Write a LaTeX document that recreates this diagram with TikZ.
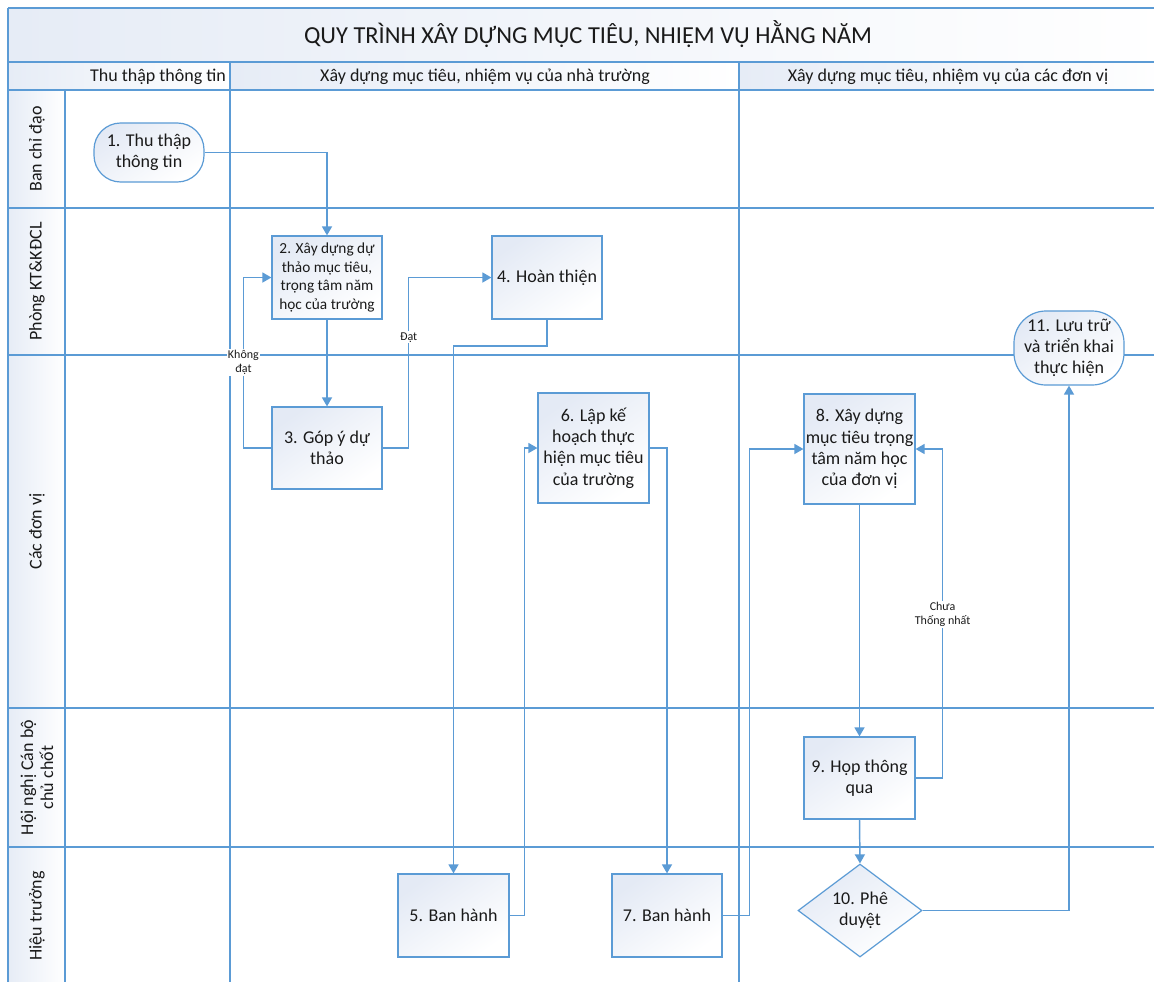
\documentclass[tikz,border=0pt]{standalone}
\usepackage{fontspec}
\setmainfont{Carlito}
\usetikzlibrary{shapes.geometric,arrows.meta}
\definecolor{ln}{HTML}{5B9BD5}
\definecolor{bx}{HTML}{E4EAF5}
\definecolor{hd}{HTML}{E6ECF6}
\definecolor{tx}{HTML}{1A1A1A}
\begin{document}
\begin{tikzpicture}[x=0.75pt,y=-0.75pt,
  gridline/.style={draw=ln, line width=1.1pt},
  cellfill/.style={left color=hd, right color=white},
  proc/.style={draw=ln, line width=0.9pt, top color=bx, bottom color=white, shading angle=35,
    align=center, text=tx, font=\fontsize{13.5}{16}\selectfont, inner sep=1pt},
  conn/.style={draw=ln, line width=1.1pt, -{Triangle[length=6.75pt,width=7.5pt]}},
  lbl/.style={fill=white, inner sep=1pt, align=center, text=tx, font=\fontsize{9}{10.5}\selectfont},
  lanetxt/.style={rotate=90, align=center, text=tx, font=\fontsize{13.5}{15}\selectfont},
  hdrtxt/.style={anchor=base, text=tx, font=\fontsize{13.5}{16}\selectfont}
]
\useasboundingbox (0,0) rectangle (1154,982);
\clip (0,0) rectangle (1154,982);
% backgrounds
\fill[white] (0,0) rectangle (1154,982);
\path[cellfill] (8,8) rectangle (1170,62);
\path[cellfill] (8,62) rectangle (230,90);
\path[cellfill] (230,62) rectangle (739,90);
\path[cellfill] (739,62) rectangle (1170,90);
\path[cellfill] (8,90) rectangle (65,208);
\path[cellfill] (8,208) rectangle (65,355);
\path[cellfill] (8,355) rectangle (65,708);
\path[cellfill] (8,708) rectangle (65,847);
\path[cellfill] (8,847) rectangle (65,1000);
% grid
\draw[gridline] (8,8) -- (1170,8);
\foreach \yy in {62,90,208,355,708,847} \draw[gridline] (8,\yy) -- (1170,\yy);
\draw[gridline] (8,8) -- (8,1000);
\draw[gridline] (65,90) -- (65,1000);
\draw[gridline] (230,62) -- (230,1000);
\draw[gridline] (739,62) -- (739,1000);
% titles
\node[anchor=base, text=tx, font=\fontsize{18.3}{22}\selectfont] (title) at (588,43.3) {QUY TRÌNH XÂY DỰNG MỤC TIÊU, NHIỆM VỤ HẰNG NĂM};
\node[hdrtxt] (h1) at (158,81.5) {Thu thập thông tin};
\node[hdrtxt] (h2) at (485,81.5) {Xây dựng mục tiêu, nhiệm vụ của nhà trường};
\node[hdrtxt] (h3) at (948,81.5) {Xây dựng mục tiêu, nhiệm vụ của các đơn vị};
\node[lanetxt] (l1) at (37,149) {Ban chỉ đạo};
\node[lanetxt] (l2) at (37,281.5) {Phòng KT\&KĐCL};
\node[lanetxt] (l3) at (37,531.5) {Các đơn vị};
\node[lanetxt] (l4) at (37,777.5) {Hội nghị Cán bộ\\chủ chốt};
\node[lanetxt] (l5) at (37,916) {Hiệu trưởng};
% nodes
\node[proc, rounded corners=20pt, minimum width=82.5pt, minimum height=44.25pt] (n1) at (149,152.5) {1. Thu thập\\thông tin};
\node[proc, font=\fontsize{11.5}{13.9}\selectfont, minimum width=82.5pt, minimum height=62.25pt] (n2) at (327,277.5) {2. Xây dựng dự\\thảo mục tiêu,\\trọng tâm năm\\học của trường};
\node[proc, minimum width=82.5pt, minimum height=61.5pt] (n3) at (327,448) {3. Góp ý dự\\thảo};
\node[proc, minimum width=82.5pt, minimum height=62.25pt] (n4) at (547,277.5) {4. Hoàn thiện};
\node[proc, minimum width=83.25pt, minimum height=62.25pt] (n5) at (453.5,915.5) {5. Ban hành};
\node[proc, minimum width=83.25pt, minimum height=82.5pt] (n6) at (593.5,448) {6. Lập kế\\hoạch thực\\hiện mục tiêu\\của trường};
\node[proc, minimum width=82.5pt, minimum height=62.25pt] (n7) at (667,915.5) {7. Ban hành};
\node[proc, minimum width=83.25pt, minimum height=82.5pt] (n8) at (859.5,449) {8. Xây dựng\\mục tiêu trọng\\tâm năm học\\của đơn vị};
\node[proc, minimum width=83.25pt, minimum height=61.5pt] (n9) at (859.5,778) {9. Họp thông\\qua};
\node[proc, diamond, aspect=1.33, inner sep=0pt, minimum width=93pt, minimum height=69.75pt] (n10) at (860,910.5) {10. Phê\\duyệt};
\node[proc, rounded corners=24pt, minimum width=82.5pt, minimum height=55.5pt] (n11) at (1069,348) {11. Lưu trữ\\và triển khai\\thực hiện};
% connectors
\draw[conn] (n1.east) -| (n2.north);
\draw[conn] (n2.south) -- (n3.north);
\draw[conn] (n3.west) -- ++(-28,0) |- node[lbl, pos=0.25] {Không\\đạt} (n2.west);
\draw[conn] (n3.east) -- ++(26,0) |- node[lbl, pos=0.325] {Đạt} (n4.west);
\draw[conn] (n4.south) -- ++(0,26.5) -| (n5.north);
\draw[conn] (n5.east) -- ++(15,0) |- (n6.west);
\draw[conn] (n6.east) -| (n7.north);
\draw[conn] (n7.east) -- ++(27,0) |- (n8.west);
\draw[conn] (n8.south) -- (n9.north);
\draw[conn] (n9.east) -- ++(27,0) |- node[lbl, pos=0.249] {Chưa\\Thống nhất} (n8.east);
\draw[conn] (n9.south) -- (n10.north);
\draw[conn] (n10.east) -| (n11.south);
\end{tikzpicture}
\end{document}
